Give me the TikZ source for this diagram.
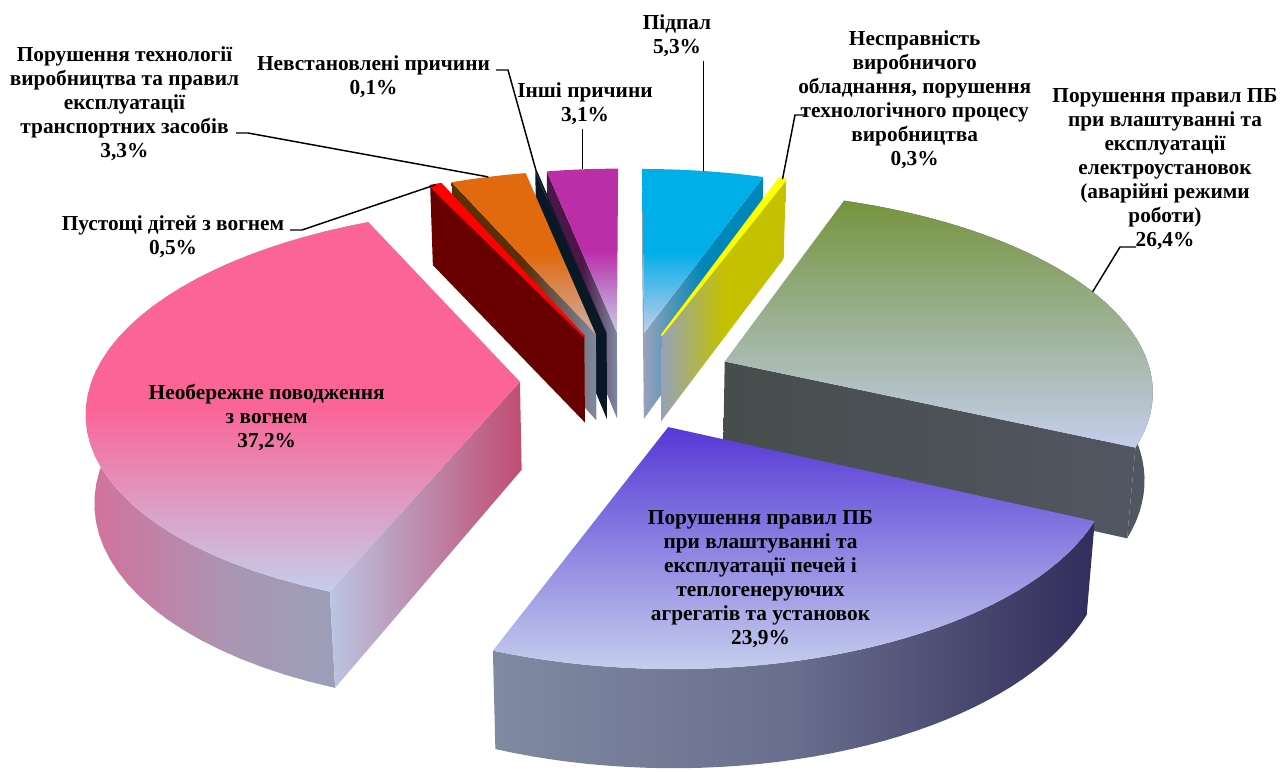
\documentclass[tikz,border=0pt]{standalone}
\usepackage{fontspec}
\setmainfont{Liberation Serif}

\definecolor{PK}{RGB}{250,100,150}
\definecolor{PKs}{RGB}{192,76,114}
\definecolor{PKr}{RGB}{212,112,155}
\definecolor{LV}{RGB}{196,206,236}
\definecolor{GB}{RGB}{150,162,186}
\definecolor{GBd}{RGB}{128,138,162}
\definecolor{GN}{RGB}{118,148,62}
\definecolor{SL}{RGB}{70,77,76}
\definecolor{SL2}{RGB}{82,86,98}
\definecolor{BL}{RGB}{86,56,214}
\definecolor{BLs}{RGB}{50,45,92}
\definecolor{CY}{RGB}{0,174,232}
\definecolor{CYs}{RGB}{0,134,184}
\definecolor{YL}{RGB}{255,255,0}
\definecolor{YLs}{RGB}{196,193,0}
\definecolor{MG}{RGB}{186,46,168}
\definecolor{MGs}{RGB}{76,22,72}
\definecolor{NV}{RGB}{14,30,48}
\definecolor{NVs}{RGB}{10,24,38}
\definecolor{OR}{RGB}{225,106,15}
\definecolor{ORs}{RGB}{92,46,8}
\definecolor{RD}{RGB}{255,0,0}
\definecolor{RDs}{RGB}{104,0,0}

% perspective view of the pie (radius 1, height 0.235)
\pgfmathdeclarefunction{pw}{2}{\pgfmathparse{1+((#1)*0.888-(#2)*0.46)/6.79}}
\pgfmathdeclarefunction{px}{3}{\pgfmathparse{627+428*(#1)/pw(#2,#3)}}
\pgfmathdeclarefunction{py}{3}{\pgfmathparse{380-428*((#2)*0.46+(#3)*0.888)/pw(#2,#3)}}
\pgfmathdeclarefunction{rx}{2}{\pgfmathparse{px(\oU+sin(#1),\oV+cos(#1),#2)}}
\pgfmathdeclarefunction{ry}{2}{\pgfmathparse{py(\oU+sin(#1),\oV+cos(#1),#2)}}

\newcommand{\pieslice}[3]{%
  \pgfmathsetmacro{\pA}{#1}\pgfmathsetmacro{\pB}{#2}%
  \pgfmathsetmacro{\pM}{(#1+#2)/2}%
  \pgfmathsetmacro{\oU}{0.25*sin(\pM)}%
  \pgfmathsetmacro{\oV}{0.25*cos(\pM)}%
  \coordinate (#3-a) at ({px(\oU,\oV,0)},{py(\oU,\oV,0)});
  \coordinate (#3-ab) at ({px(\oU,\oV,-0.235)},{py(\oU,\oV,-0.235)});
  \coordinate (#3-s) at ({rx(\pA,0)},{ry(\pA,0)});
  \coordinate (#3-sb) at ({rx(\pA,-0.235)},{ry(\pA,-0.235)});
  \coordinate (#3-e) at ({rx(\pB,0)},{ry(\pB,0)});
  \coordinate (#3-eb) at ({rx(\pB,-0.235)},{ry(\pB,-0.235)});
  \coordinate (#3-m) at ({rx(\pM,0)},{ry(\pM,0)});
}
\newcommand{\topface}[2]{\path[#2] (#1-a) -- plot[variable=\t,domain=\pA:\pB,samples=40] ({rx(\t,0)},{ry(\t,0)}) -- cycle;}
\newcommand{\rimface}[2]{\path[#2] plot[variable=\t,domain=\pA:\pB,samples=40] ({rx(\t,0)},{ry(\t,0)}) -- plot[variable=\t,domain=\pB:\pA,samples=40] ({rx(\t,-0.235)},{ry(\t,-0.235)}) -- cycle;}
\newcommand{\cutstart}[2]{\path[#2] (#1-a) -- (#1-s) -- (#1-sb) -- (#1-ab) -- cycle;}
\newcommand{\cutend}[2]{\path[#2] (#1-a) -- (#1-e) -- (#1-eb) -- (#1-ab) -- cycle;}

\begin{document}
\begin{tikzpicture}[x=0.75pt,y=-0.75pt,
    lbl/.style={font=\bfseries\fontsize{16}{18}\selectfont, align=center, inner sep=0pt},
    leader/.style={line width=1.1pt, black}]
  \useasboundingbox (0,0) rectangle (1280,771);

  % back slices, left of the top
  \pieslice{348.85}{360}{inshi}
  \cutstart{inshi}{left color=MGs, right color=GBd, middle color=MGs}
  \topface{inshi}{top color=MG, bottom color=LV, middle color=MG}
  \pieslice{348.49}{348.85}{nevst}
  \cutstart{nevst}{fill=NVs}
  \topface{nevst}{fill=NV}
  \pieslice{336.62}{348.49}{tech}
  \cutstart{tech}{left color=ORs, right color=GBd, middle color=ORs}
  \topface{tech}{top color=OR, bottom color=LV!70!OR, middle color=OR}
  \pieslice{334.83}{336.62}{pust}
  \cutstart{pust}{fill=RDs}
  \topface{pust}{fill=RD, draw=RD, line width=1.4pt, line join=round}

  % back slices, right of the top
  \pieslice{0}{19.06}{pidpal}
  \cutstart{pidpal}{fill=GB}
  \cutend{pidpal}{left color=GB, right color=CYs, middle color=CYs}
  \topface{pidpal}{top color=CY, bottom color=LV, middle color=CY}
  \pieslice{19.06}{20.14}{nespr}
  \cutend{nespr}{left color=GB, right color=YLs, middle color=YLs}
  \topface{nespr}{fill=YL, draw=YL, line width=1.4pt, line join=round}

  % big slices
  \pieslice{201.04}{334.83}{neob}
  \rimface{neob}{left color=PKr, right color=GB, middle color=GB!80!PK}
  \cutstart{neob}{left color=LV!80!GB, right color=PKs}
  \topface{neob}{top color=PK, bottom color=LV, middle color=PK}
  \pieslice{20.14}{115.08}{elektro}
  \rimface{elektro}{fill=SL2}
  \cutend{elektro}{left color=SL, right color=SL2}
  \topface{elektro}{top color=GN, bottom color=LV}
  \pieslice{115.08}{201.04}{pechi}
  \rimface{pechi}{left color=GBd, right color=BLs, middle color=GBd!70!BLs}
  \topface{pechi}{top color=BL, bottom color=LV}

  % labels
  \node[lbl] (lab-tech) at (124.5,104) {Порушення технології\\виробництва та правил\\експлуатації\\транспортних засобів\\3,3\%};
  \node[lbl] (lab-nevst) at (373.5,76.5) {Невстановлені причини\\0,1\%};
  \node[lbl] (lab-inshi) at (585,103.5) {Інші причини\\3,1\%};
  \node[lbl] (lab-pust) at (173,237) {Пустощі дітей з вогнем\\0,5\%};
  \node[lbl] (lab-pidpal) at (677,36) {Підпал\\5,3\%};
  \node[lbl] (lab-nespr) at (914.7,100) {Несправність\\виробничого\\обладнання, порушення\\технологічного процесу\\виробництва\\0,3\%};
  \node[lbl] (lab-elektro) at (1165,169) {Порушення правил ПБ\\при влаштуванні та\\експлуатації\\електроустановок\\(аварійні режими\\роботи)\\26,4\%};
  \node[lbl] (lab-neob) at (266.7,418) {Необережне поводження\\з вогнем\\37,2\%};
  \node[lbl] (lab-pechi) at (760.5,579) {Порушення правил ПБ\\при влаштуванні та\\експлуатації печей і\\теплогенеруючих\\агрегатів та установок\\23,9\%};

  % leader lines
  \coordinate (tech-l) at (236,133);
  \coordinate (tech-k) at (248,133);
  \coordinate (nevst-l) at (496,70);
  \coordinate (nevst-k) at (508,70);
  \coordinate (pust-l) at (290,230);
  \coordinate (pust-k) at (302,230);
  \coordinate (nespr-l) at (805,115);
  \coordinate (nespr-k) at (795,115);
  \coordinate (elektro-l) at (1136,247);
  \coordinate (elektro-k) at (1120,247);
  \draw[leader] (tech-l) -- (tech-k) -- (tech-m);
  \draw[leader] (nevst-l) -- (nevst-k) -- (nevst-m);
  \draw[leader] (pust-l) -- (pust-k) -- (pust-m);
  \draw[leader] (nespr-l) -- (nespr-k) -- (nespr-m);
  \draw[leader] (elektro-l) -- (elektro-k) -- (elektro-m);
  \draw[leader] ([yshift=-3]lab-inshi.south -| inshi-m) -- (inshi-m);
  \draw[leader] ([yshift=-3]lab-pidpal.south -| pidpal-m) -- (pidpal-m);
\end{tikzpicture}
\end{document}
